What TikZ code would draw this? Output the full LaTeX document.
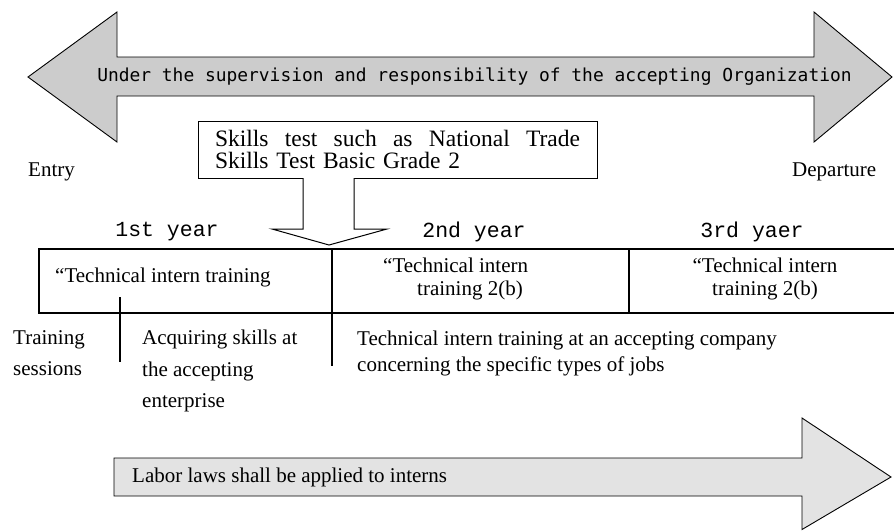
\documentclass[tikz,border=0pt]{standalone}
\usepackage{fontspec}
\setmainfont{Liberation Serif}
\newfontfamily\gothicfont{DejaVu Sans Mono}
\newfontfamily\minchofont{Liberation Mono}

\begin{document}
\begin{tikzpicture}[
    x=1pt, y=-1pt,
    blockarrow/.style={draw, line width=0.9pt, fill=gray!40},
    lawarrow/.style={draw, line width=0.9pt, fill=gray!22},
    frame/.style={draw, line width=1.1pt},
    yearlabel/.style={font=\minchofont\fontsize{21.5}{24}\selectfont},
    plain/.style={inner sep=0pt, align=left, font=\fontsize{21}{31.5}\selectfont},
    cell/.style={inner sep=0pt, font=\fontsize{21}{23}\selectfont}
]
\useasboundingbox (0,0) rectangle (894,531);

% Supervision arrow (both ways)
\draw[blockarrow] (28,77) -- (117,12) -- (117,57) -- (814,57) -- (814,12)
    -- (892,77) -- (814,142) -- (814,96) -- (117,96) -- (117,142) -- cycle;
\node[font=\gothicfont\fontsize{17.9}{20}\selectfont] (super) at (474.5,77)
    {Under the supervision and responsibility of the accepting Organization};

\node[plain, anchor=west] (entry) at (28,172) {Entry};
\node[plain, anchor=west] (departure) at (792,172) {Departure};

% Skills test
\node[draw, line width=1pt, text width=365pt, inner xsep=17pt, inner ysep=0pt,
      minimum height=57pt, align=left, font=\fontsize{23.5}{21.5}\selectfont]
    (skills) at (397.5,149.5)
    {\hbox to 365pt{Skills\hfill test\hfill such\hfill as\hfill National\hfill Trade}\\
     Skills Test Basic Grade 2};

\draw[line width=1pt, fill=white] (303,178) -- (303,229) -- (272,229) -- (329,245)
    -- (387,229) -- (354,229) -- (354,178);

% Years
\node[yearlabel] (year1) at (167,232) {1st year};
\node[yearlabel] (year2) at (474,232) {2nd year};
\node[yearlabel] (year3) at (752,232) {3rd yaer};

\draw[frame] (894,249) -- (39,249) -- (39,313) -- (894,313);
\draw[frame] (332,249) -- (332,366);
\draw[frame] (629,249) -- (629,313);
\draw[frame] (120,297) -- (120,362);

\node[cell, anchor=west] (stage1) at (55,277) {“Technical intern training};
\node[cell, anchor=west, align=left] (stage2) at (383,279)
    {“Technical intern\\\hspace*{34pt}training 2(b)};
\node[cell, align=center] (stage3) at (765,279)
    {“Technical intern\\training 2(b)};

% What happens during the stay
\node[plain, anchor=north west] (sessions) at (13,330) {Training\\sessions};
\node[plain, anchor=north west] (acquire) at (142,330)
    {Acquiring skills at\\the accepting\\enterprise};
\node[plain, anchor=north west, font=\fontsize{21}{26}\selectfont] (company) at (357,331)
    {Technical intern training at an accepting company\\concerning the specific types of jobs};

% Labor laws
\draw[lawarrow] (114,458) -- (802,458) -- (802,418) -- (891,477) -- (802,529.5)
    -- (802,496) -- (114,496) -- cycle;
\node[plain, anchor=west] (labor) at (132,477) {Labor laws shall be applied to interns};

\end{tikzpicture}
\end{document}
